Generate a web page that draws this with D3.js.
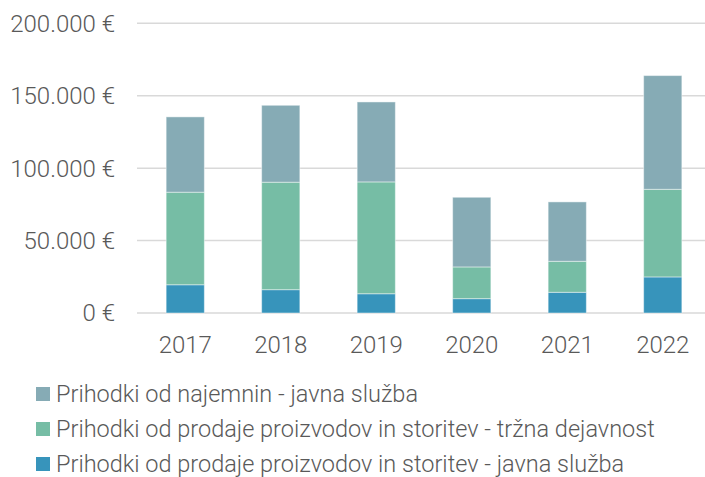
<!DOCTYPE html>
<html><head><meta charset="utf-8">
<script src="https://cdn.jsdelivr.net/npm/d3@7"></script>
<style>body{margin:0;background:#fff}svg{display:block}</style>
</head><body>
<svg id="c" width="705" height="477"></svg>
<script>
const years = ["2017","2018","2019","2020","2021","2022"];
const seriesNames = [
  "Prihodki od prodaje proizvodov in storitev - javna služba",
  "Prihodki od prodaje proizvodov in storitev - tržna dejavnost",
  "Prihodki od najemnin - javna služba"
];
const javnaProdaja = [19500, 16100, 13300, 9900, 14300, 24900];
const trznaProdaja = [63900, 74200, 77200, 21900, 21400, 60500];
const najemnine    = [52000, 53100, 55200, 48100, 41000, 78500];
const yTicks = [0, 50000, 100000, 150000, 200000];
const colors = ["#3794BB", "#76BDA5", "#86ABB5"];
const legendOrder = [2, 1, 0];

const svg = d3.select("#c");
const font = "Roboto, 'Liberation Sans', Arial, sans-serif";
const fw = 300, tc = "#595959";
const x = d3.scaleBand().domain(years).range([137.5, 710.5]).paddingInner(0.6).paddingOuter(0.3);
const y = d3.scaleLinear().domain([0, 200000]).range([313, 23.3]);

const rows = years.map((yr, i) => ({year: yr, s0: javnaProdaja[i], s1: trznaProdaja[i], s2: najemnine[i]}));
const stack = d3.stack().keys(["s0","s1","s2"])(rows);

svg.append("g").selectAll("line").data(yTicks).join("line")
  .attr("x1", 137).attr("x2", 705)
  .attr("y1", d => y(d)).attr("y2", d => y(d))
  .attr("stroke", "#d9d9d9").attr("stroke-width", 1.5);

const fmt = d => d3.format(",")(d).replace(/,/g, ".") + " €";
svg.append("g").selectAll("text").data(yTicks).join("text")
  .attr("x", 115).attr("y", d => y(d)).attr("dy", "0.35em")
  .attr("text-anchor", "end").attr("font-family", font).attr("font-size", 24).attr("font-weight", fw)
  .attr("fill", tc).text(fmt);

stack.forEach((layer, k) => {
  svg.append("g").selectAll("rect").data(layer).join("rect")
    .attr("x", d => x(d.data.year)).attr("width", x.bandwidth())
    .attr("y", d => y(d[1])).attr("height", d => y(d[0]) - y(d[1]))
    .attr("fill", colors[k]).attr("stroke", "rgba(255,255,255,0.45)").attr("stroke-width", 1);
});

svg.append("g").selectAll("text").data(years).join("text")
  .attr("x", d => x(d) + x.bandwidth()/2).attr("y", 353)
  .attr("text-anchor", "middle").attr("font-family", font).attr("font-size", 24).attr("font-weight", fw)
  .attr("fill", tc).text(d => d);

const lg = svg.append("g").selectAll("g").data(legendOrder).join("g")
  .attr("transform", (d, i) => `translate(0, ${394 + i*35})`);
lg.append("rect").attr("x", 36).attr("y", -7).attr("width", 14).attr("height", 14)
  .attr("fill", d => colors[d]);
lg.append("text").attr("x", 56).attr("y", 8)
  .attr("font-family", font).attr("font-size", 23.5).attr("font-weight", fw).attr("fill", tc)
  .text(d => seriesNames[d]);
</script>
</body></html>
